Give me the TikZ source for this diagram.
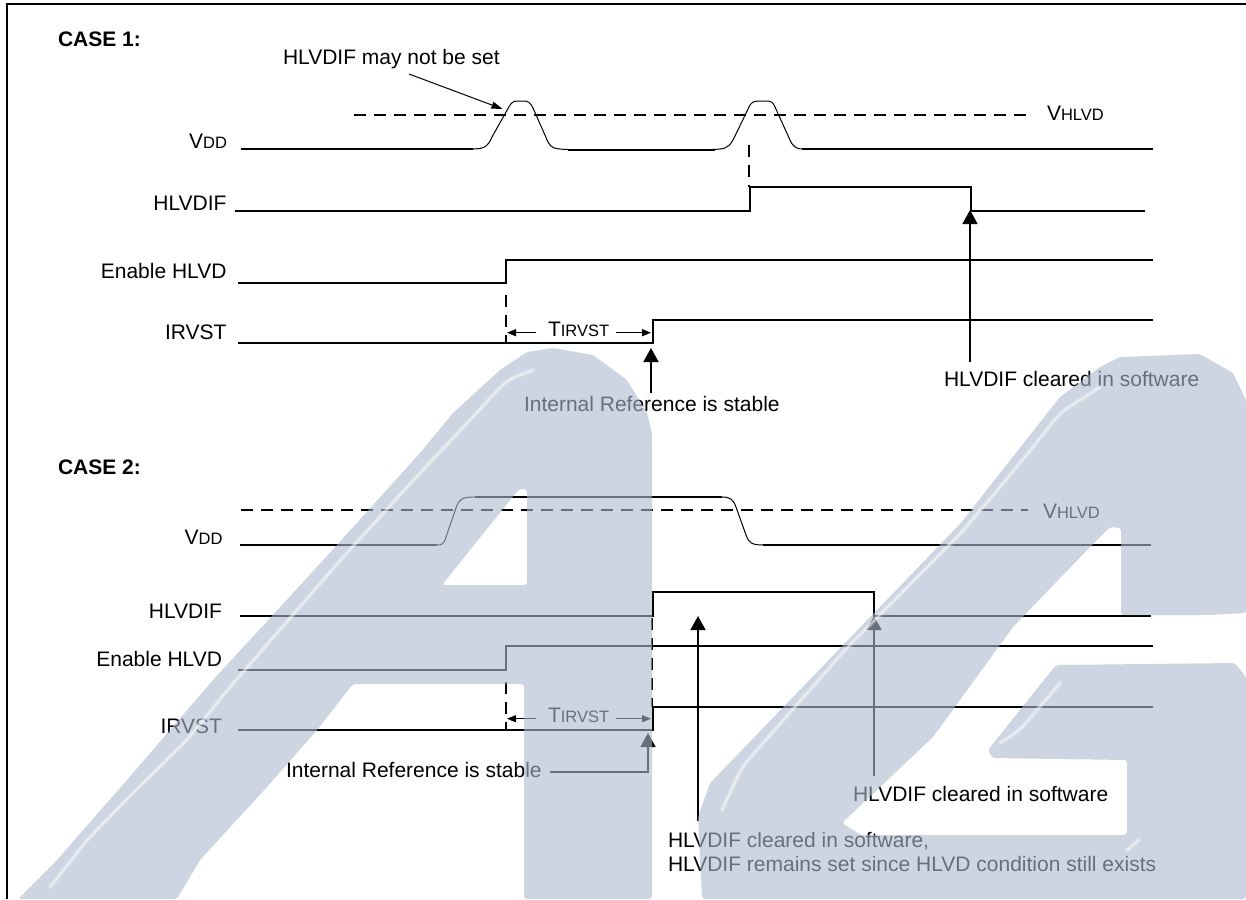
\documentclass[tikz,border=0pt]{standalone}
\usepackage{fontspec}
\setmainfont{Liberation Sans}
\usetikzlibrary{arrows.meta}
\definecolor{wm}{rgb}{.683,.725,.817}
\newcommand{\sml}[1]{{\fontsize{16.5}{20}\selectfont #1}}
\tikzset{
  lbl/.style={inner sep=0pt,outer sep=0pt,anchor=base west,font=\fontsize{21}{24}\selectfont,text=black},
  rlbl/.style={lbl,anchor=base east},
  casehd/.style={lbl,font=\fontsize{21}{24}\selectfont\bfseries},
  sig/.style={line width=1.7pt,line join=miter},
  ramp/.style={line width=1pt},
  thr/.style={line width=1.5pt,dash pattern=on 12pt off 8pt},
  bigarrow/.style={line width=1.5pt,-{Triangle[length=14pt,width=15pt]}},
  smallarrow/.style={line width=1.5pt,-{Triangle[length=9pt,width=7pt]}},
  thinarrow/.style={line width=1pt,-{Triangle[length=11pt,width=7pt]}},
  wmark/.style={fill=wm,fill opacity=.6,draw=none,even odd rule,rounded corners=3pt},
  glint/.style={draw=white,draw opacity=.5,line width=1.8pt,line cap=round,rounded corners=10pt},
  glow/.style={draw=white,draw opacity=.22,line width=5pt,line cap=round,rounded corners=10pt},
}
\begin{document}
\begin{tikzpicture}[x=1pt,y=-1pt]
\useasboundingbox (0,0) rectangle (1246,899);
\fill[white] (0,0) rectangle (1246,899);
% frame
\draw[line width=2pt] (7,899) -- (7,4) -- (1246,4);

% ---------- CASE 1 ----------
\node[casehd] (case1) at (58,46.5) {CASE 1:};
\node[lbl] (maynot) at (283,64) {HLVDIF may not be set};
\coordinate (maynotS) at (409,74);
\coordinate (maynotT) at (502.5,109);
\draw[thinarrow] (maynotS) -- (maynotT);
\draw[thr] (354,115) -- (1028,115);
\node[lbl] (vhlvd1) at (1047,120) {V\sml{HLVD}};

\node[rlbl] (vdd1) at (227,148.5) {V\sml{DD}};
\draw[sig] (241,149) -- (473,149);
\draw[ramp] (473,149) .. controls (483,149) and (488,147) .. (492,137) -- (510,105)
  .. controls (513,101) and (515,101) .. (518,101) -- (523,101)
  .. controls (528,101) and (530,102) .. (533,108) -- (548,142)
  .. controls (551,148) and (554,149) .. (568,149.5);
\draw[sig] (568,150) -- (715,150);
\draw[ramp] (712,149.5) .. controls (724,149) and (728,149) .. (733,140) -- (750,105)
  .. controls (753,101) and (756,101) .. (759,101) -- (766,101)
  .. controls (771,101) and (773,102) .. (775,107) -- (790,140)
  .. controls (793,147) and (797,149) .. (802,149);
\draw[sig] (802,149) -- (1153,149);
\draw[thr] (749,145) -- (749,187);

\node[rlbl] (hlvdif1) at (226.5,210) {HLVDIF};
\draw[sig] (235,211) -- (750,211) -- (750,187) -- (971,187) -- (971,211) -- (1145,211);
\node[lbl] (clr1) at (944,386) {HLVDIF cleared in software};
\coordinate (clr1S) at (970,362);
\coordinate (clr1T) at (970,210);
\draw[bigarrow] (clr1S) -- (clr1T);

\node[rlbl] (en1) at (226.5,278.5) {Enable HLVD};
\draw[sig] (238,283) -- (506,283) -- (506,260) -- (1153,260);
\draw[thr] (506,295) -- (506,343);

\node[rlbl] (irv1) at (226.5,339) {IRVST};
\draw[sig] (238,343) -- (653,343) -- (653,320) -- (1153,320);
\node[lbl] (t1) at (548,336) {T\sml{IRVST}};
\coordinate (t1L) at (507,332.7);
\coordinate (t1R) at (651,332.7);
\draw[smallarrow] (t1.west |- t1L) ++(-12,0) -- (t1L);
\draw[smallarrow] (t1.east |- t1R) ++(7,0) -- (t1R);
\node[lbl] (int1) at (524,411) {Internal Reference is stable};
\coordinate (int1S) at (651,393);
\coordinate (int1T) at (651,348);
\draw[bigarrow] (int1S) -- (int1T);

% ---------- CASE 2 ----------
\node[casehd] (case2) at (58,474) {CASE 2:};
\draw[thr] (241,510) -- (1028,510);
\node[lbl] (vhlvd2) at (1043,518) {V\sml{HLVD}};

\node[rlbl] (vdd2) at (222.5,544) {V\sml{DD}};
\draw[sig] (240,545) -- (437,545);
\draw[ramp] (437,545) .. controls (442,545) and (444,544) .. (446,537) -- (456,508)
  .. controls (459,499) and (462,497) .. (475,497);
\draw[sig] (475,497) -- (722,497);
\draw[ramp] (722,497) .. controls (730,497) and (733,499) .. (736,507) -- (746,535)
  .. controls (749,543) and (752,545) .. (763,545);
\draw[sig] (763,545) -- (1151,545);

\node[rlbl] (hlvdif2) at (222,618) {HLVDIF};
\draw[sig] (240,616) -- (653,616) -- (653,592) -- (874,592) -- (874,616) -- (1151,616);
\node[rlbl] (en2) at (222,666) {Enable HLVD};
\draw[sig] (238,670) -- (506,670) -- (506,646) -- (1153,646);
\draw[thr] (506,682) -- (506,730);
\node[rlbl] (irv2) at (222,733) {IRVST};
\draw[sig] (238,730) -- (653,730) -- (653,707) -- (1153,707);
\draw[thr] (652,618) -- (652,707);
\node[lbl] (t2) at (548,722) {T\sml{IRVST}};
\coordinate (t2L) at (507,718.7);
\coordinate (t2R) at (651,718.7);
\draw[smallarrow] (t2.west |- t2L) ++(-12,0) -- (t2L);
\draw[smallarrow] (t2.east |- t2R) ++(7,0) -- (t2R);

\node[lbl] (int2) at (286,777) {Internal Reference is stable};
\coordinate (int2J) at (648,772);
\coordinate (int2T) at (648,733);
\draw[bigarrow] (int2.east |- int2J) ++(8,0) -- (int2J) -- (int2T);

\node[lbl] (clr2) at (853,801) {HLVDIF cleared in software};
\coordinate (clr2S) at (874,776);
\coordinate (clr2T) at (874,616);
\draw[bigarrow] (clr2S) -- (clr2T);

\node[lbl] (clr3) at (668,847) {HLVDIF cleared in software,};
\node[lbl] (clr4) at (668,871) {HLVDIF remains set since HLVD condition still exists};
\coordinate (clr3S) at (698,821);
\coordinate (clr3T) at (698,616);
\draw[bigarrow] (clr3S) -- (clr3T);

% ---------- watermark, laid over the drawing ----------
\path[wmark]
  (18,899) -- (57,860) -- (127,780) -- (213,680) -- (272,616) -- (337,545) -- (420,453) -- (453,413)
  -- (500,370) -- (527,352) -- (553,348) -- (593,355) -- (627,380) -- (647,413) -- (652,433)
  -- (652,899) -- (524,899) -- (524,684) -- (353,684) -- (317,730) -- (267,787) -- (200,860) -- (177,899) -- cycle
  (527,489) -- (519,489) -- (442,585) -- (527,585) -- cycle;
\path[wmark]
  (702,899) -- (698,817) -- (710,783) -- (742,750) -- (877,610) -- (961,523) -- (1000,473) -- (1060,397)
  -- (1100,367) -- (1120,357) -- (1200,354) -- (1233,373) -- (1246,400)
  -- (1246,613) -- (1208,615) -- (1121,615) -- (1121,528) -- (1110,527) -- (1090,547) -- (1013,627)
  -- (933,737) -- (842,823) -- (861,835) -- (1127,835) -- (1127,760) -- (992,758) -- (988,750)
  -- (1056,665) -- (1235,663) -- (1246,677) -- (1246,899) -- cycle;
\foreach \st in {glow,glint}{
  \draw[\st] (50,887) -- (87,840) -- (133,793) -- (187,740) -- (230,687) -- (345,555) -- (420,473) -- (470,420) -- (507,380) -- (533,370);
  \draw[\st] (722,810) -- (742,767) -- (845,650) -- (961,533) -- (1000,487) -- (1033,447) -- (1060,413) -- (1100,387);
  \draw[\st] (1000,743) -- (1020,730) -- (1060,683);
  \draw[\st] (1127,850) -- (1139,840);
}
\end{tikzpicture}
\end{document}
